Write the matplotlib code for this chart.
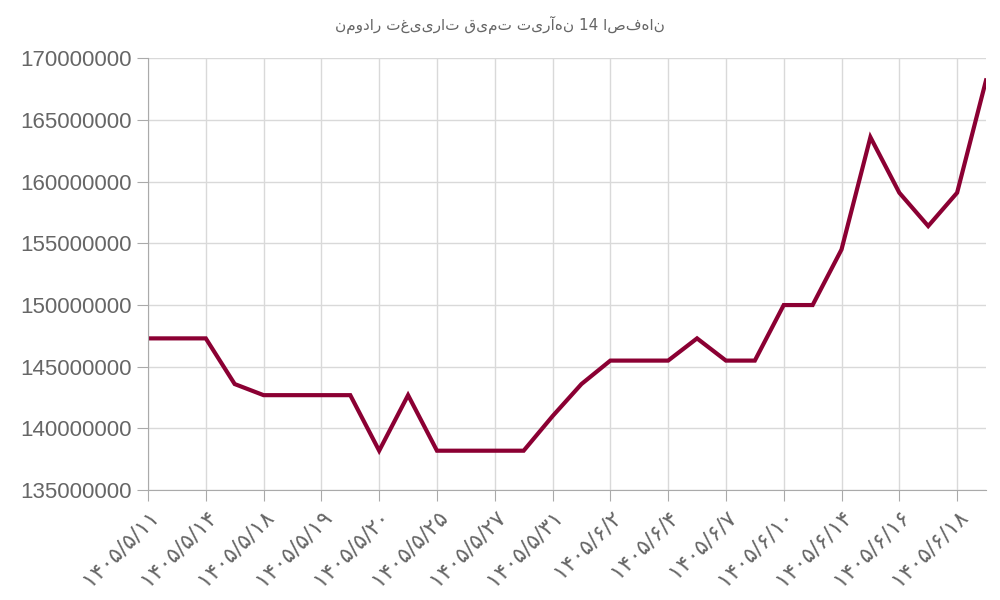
import matplotlib
matplotlib.use("Agg")
import matplotlib.pyplot as plt

values = [147.3, 147.3, 147.3, 143.6, 142.7, 142.7, 142.7, 142.7, 138.2, 142.7,
          138.2, 138.2, 138.2, 138.2, 141.0, 143.6, 145.5, 145.5, 145.5, 147.3,
          145.5, 145.5, 150.0, 150.0, 154.5, 163.6, 159.1, 156.4, 159.1, 168.2]
values = [v * 1e6 for v in values]
tick_labels = ["۱۴۰۵/۵/۱۱", "۱۴۰۵/۵/۱۴", "۱۴۰۵/۵/۱۸", "۱۴۰۵/۵/۱۹", "۱۴۰۵/۵/۲۰",
               "۱۴۰۵/۵/۲۵", "۱۴۰۵/۵/۲۷", "۱۴۰۵/۵/۳۱", "۱۴۰۵/۶/۲", "۱۴۰۵/۶/۴",
               "۱۴۰۵/۶/۷", "۱۴۰۵/۶/۱۰", "۱۴۰۵/۶/۱۴", "۱۴۰۵/۶/۱۶", "۱۴۰۵/۶/۱۸"]
title = "نمودار تغییرات قیمت تیرآهن 14 اصفهان"

fig = plt.figure(figsize=(10, 6), dpi=100)
ax = fig.add_axes([0.148, 0.183, 0.838, 0.72])
x = list(range(len(values)))
ax.plot(x, values, color="#8b0033", lw=3, solid_joinstyle="miter")
ax.set_xlim(0, len(values) - 1)
ax.set_ylim(135e6, 170e6)
ax.set_yticks([135e6 + 5e6 * i for i in range(8)])
ax.set_yticklabels([f"{135000000 + 5000000 * i}" for i in range(8)], fontsize=16,
                   color="#666666", family="Liberation Sans")
ax.set_xticks(x[::2])
ax.set_xticklabels(tick_labels, rotation=45, ha="right", rotation_mode="anchor",
                   fontsize=16, color="#666666", family="DejaVu Sans")
ax.grid(True, color="#d9d9d9", lw=1)
ax.set_axisbelow(True)
for s in ["top", "right"]:
    ax.spines[s].set_visible(False)
for s in ["left", "bottom"]:
    ax.spines[s].set_color("#aaaaaa")
ax.tick_params(length=8, color="#aaaaaa")
fig.text(0.5, 0.95, title, ha="center", fontsize=11, color="#666666", family="DejaVu Sans")
fig.savefig("out.png")
